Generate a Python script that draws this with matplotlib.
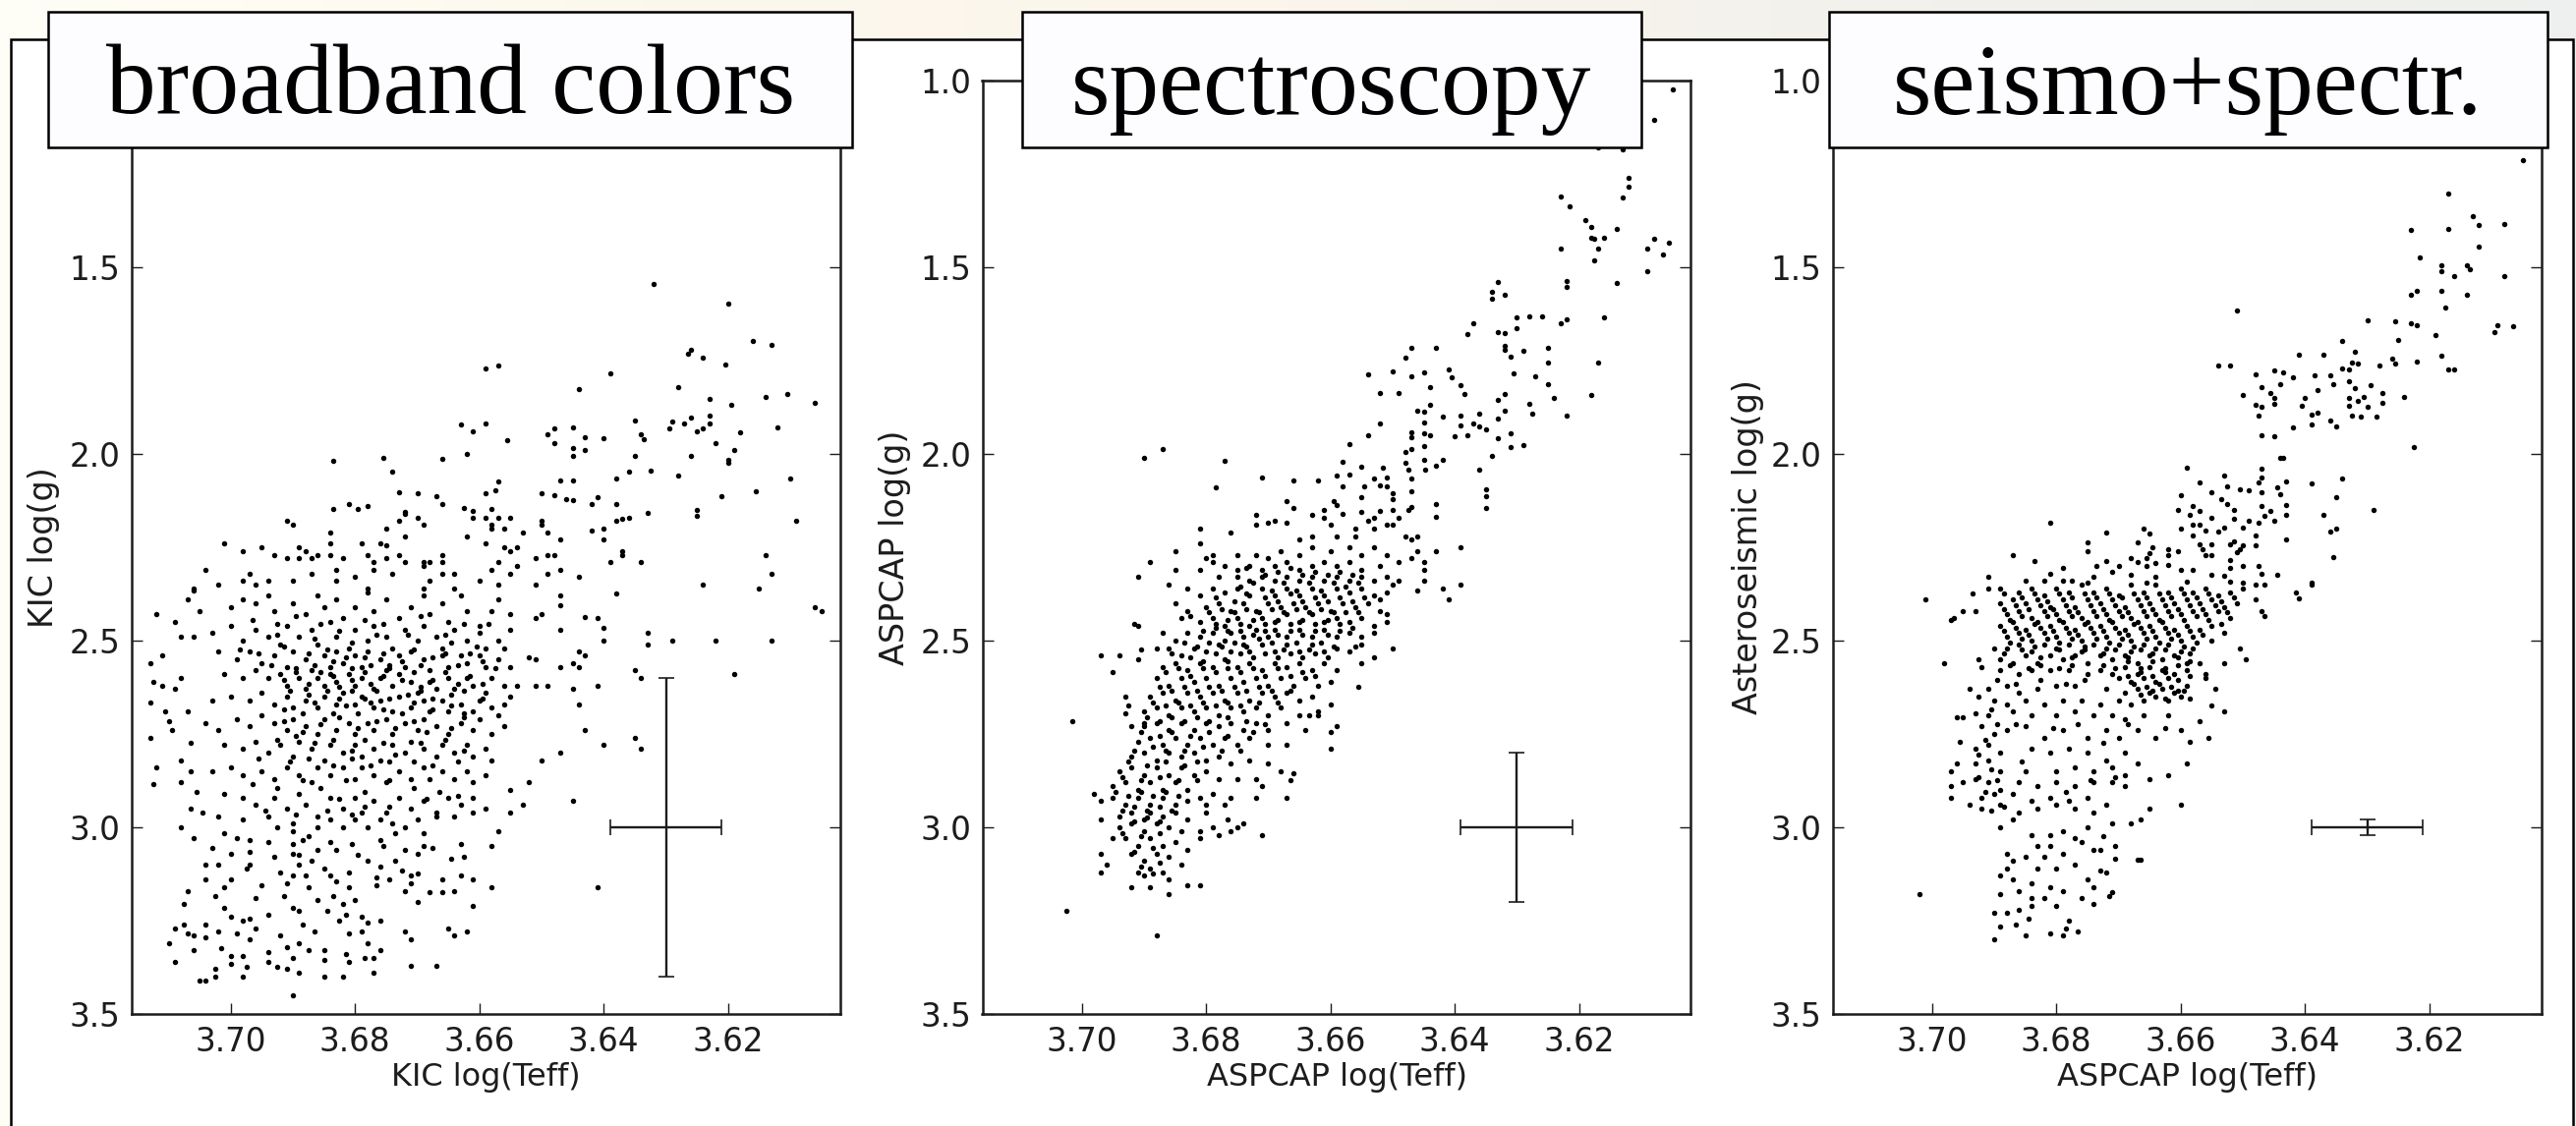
import numpy as np
import matplotlib
matplotlib.use('Agg')
import matplotlib.pyplot as plt
from matplotlib.patches import Rectangle
from matplotlib.colors import LinearSegmentedColormap

# (log Teff, log g), one list per panel
kic_points = [
(3.632,1.545),(3.620,1.598),(3.616,1.698),(3.613,1.708),(3.626,1.72),(3.6265,1.732),(3.624,1.742),(3.6205,1.76),(3.657,1.762),(3.659,1.772),
(3.639,1.785),(3.644,1.826),(3.628,1.822),(3.6105,1.84),(3.614,1.848),(3.623,1.852),(3.606,1.863),(3.6195,1.868),(3.623,1.898),(3.626,1.902),
(3.629,1.913),(3.635,1.911),(3.623,1.919),(3.627,1.919),(3.624,1.932),(3.6295,1.932),(3.612,1.929),(3.625,1.94),(3.618,1.943),(3.663,1.921),
(3.659,1.919),(3.661,1.94),(3.6555,1.964),(3.649,1.947),(3.648,1.931),(3.645,1.929),(3.643,1.955),(3.648,1.972),(3.64,1.957),(3.634,1.947),
(3.6335,1.96),(3.622,1.972),(3.645,1.985),(3.643,1.989),(3.619,1.989),(3.645,2.005),(3.662,2.001),(3.666,2.014),(3.6755,2.011),(3.6835,2.018),
(3.635,2.006),(3.626,2.006),(3.62,2.017),(3.62,2.024),(3.674,2.047),(3.6325,2.046),(3.636,2.048),(3.628,2.057),(3.61,2.065),(3.638,2.065),
(3.647,2.07),(3.645,2.07),(3.657,2.075),(3.6575,2.098),(3.659,2.106),(3.673,2.102),(3.67,2.104),(3.667,2.113),(3.65,2.105),(3.648,2.111),
(3.6155,2.1),(3.621,2.113),(3.641,2.115),(3.646,2.121),(3.645,2.124),(3.681,2.134),(3.666,2.133),(3.642,2.134),(3.638,2.133),(3.6835,2.148),
(3.6795,2.148),(3.678,2.139),(3.672,2.155),(3.672,2.16),(3.6625,2.145),(3.661,2.153),(3.658,2.148),(3.625,2.15),(3.633,2.158),(3.625,2.167),
(3.609,2.18),(3.636,2.17),(3.637,2.175),(3.638,2.18),(3.64,2.2),(3.642,2.205),(3.64,2.23),(3.65,2.18),(3.65,2.19),(3.649,2.21),(3.647,2.23),
(3.653,2.21),(3.656,2.2),(3.658,2.19),(3.658,2.2),(3.659,2.17),(3.657,2.17),(3.655,2.17),(3.661,2.17),(3.662,2.22),(3.659,2.24),(3.673,2.18),
(3.67,2.17),(3.669,2.19),(3.691,2.18),(3.69,2.19),(3.684,2.21),(3.675,2.2),(3.672,2.22),(3.701,2.24),(3.695,2.25),(3.698,2.26),(3.689,2.25),
(3.688,2.26),(3.684,2.24),(3.679,2.24),(3.676,2.24),(3.675,2.245),(3.693,2.27),(3.691,2.28),(3.689,2.28),(3.687,2.28),(3.686,2.27),(3.684,2.27),
(3.682,2.28),(3.678,2.27),(3.677,2.29),(3.675,2.28),(3.673,2.27),(3.672,2.29),(3.669,2.29),(3.668,2.29),(3.666,2.27),(3.666,2.29),(3.656,2.25),
(3.655,2.26),(3.654,2.25),(3.657,2.29),(3.654,2.3),(3.651,2.28),(3.649,2.27),(3.648,2.27),(3.637,2.26),(3.637,2.27),(3.639,2.29),(3.634,2.29),
(3.614,2.27),(3.613,2.32),(3.624,2.35),(3.615,2.36),(3.644,2.33),(3.647,2.31),(3.649,2.32),(3.651,2.35),(3.655,2.32),(3.658,2.31),(3.704,2.31),
(3.697,2.32),(3.687,2.32),(3.683,2.31),(3.68,2.33),(3.677,2.31),(3.674,2.32),(3.669,2.3),(3.664,2.32),(3.666,2.32),(3.668,2.34),(3.66,2.34),
(3.706,2.36),(3.702,2.35),(3.698,2.34),(3.696,2.35),(3.694,2.34),(3.69,2.34),(3.683,2.34),(3.678,2.36),(3.669,2.36),(3.664,2.36),(3.657,2.35),
(3.638,2.375),(3.647,2.38),(3.647,2.405),(3.65,2.43),(3.651,2.44),(3.647,2.47),(3.643,2.436),(3.641,2.44),(3.64,2.466),(3.64,2.5),(3.633,2.48),
(3.633,2.51),(3.629,2.5),(3.622,2.5),(3.613,2.5),(3.606,2.41),(3.605,2.42),(3.644,2.53),(3.643,2.54),(3.644,2.57),(3.645,2.56),(3.647,2.57),
(3.651,2.55),(3.652,2.545),(3.635,2.58),(3.634,2.6),(3.619,2.59),(3.641,2.62),(3.645,2.63),(3.649,2.62),(3.651,2.62),(3.654,2.62),(3.644,2.67),
(3.643,2.74),(3.635,2.76),(3.634,2.79),(3.64,2.78),(3.647,2.8),(3.65,2.82),(3.652,2.88),(3.655,2.9),(3.645,2.93),(3.653,2.94),(3.655,2.96),
(3.641,3.16),(3.657,3.01),(3.658,3.05),(3.658,3.16),(3.661,3.21),(3.661,3.14),(3.663,3.13),(3.666,3.14),(3.662,3.28),(3.665,3.27),(3.664,3.29),
(3.667,3.37),(3.671,3.37),(3.672,3.28),(3.671,3.3),(3.69,3.45),(3.682,3.4),(3.677,3.39),(3.685,3.4),(3.689,3.39),(3.698,3.4),
(3.713,2.56),(3.711,2.54),(3.712,2.43),(3.709,2.45),(3.708,2.49),(3.706,2.49),(3.706,2.365),(3.707,2.39),(3.705,2.42),(3.7125,2.61),(3.711,2.62),
(3.709,2.63),(3.708,2.6),(3.713,2.665),(3.7105,2.69),(3.707,2.69),(3.71,2.715),(3.7095,2.74),(3.713,2.76),(3.7065,2.775),(3.708,2.82),(3.712,2.84),
(3.7125,2.885),(3.708,2.88),(3.7065,2.85),(3.7055,2.905),(3.7065,2.95),(3.7045,2.96),(3.708,3.0),(3.706,3.03),(3.703,3.055),(3.704,3.1),(3.704,3.14),
(3.707,3.17),(3.7075,3.205),(3.7025,3.185),(3.709,3.27),(3.7075,3.26),(3.71,3.31),(3.707,3.285),(3.706,3.29),(3.704,3.295),(3.709,3.36),(3.706,3.33),
(3.705,3.41),(3.704,3.41),(3.7025,3.4),(3.7025,3.38),(3.7015,3.325),(3.7,3.345),(3.7,3.365),(3.702,3.28),(3.704,3.26),(3.699,3.285),(3.697,3.3),
(3.696,3.27),(3.698,3.345),(3.6975,3.375),(3.694,3.36),(3.694,3.335),(3.6925,3.375),(3.691,3.38),(3.69,3.35),(3.691,3.32),(3.689,3.31),(3.692,3.29),
(3.694,3.235),(3.698,3.25),(3.697,3.245),(3.7,3.24),(3.701,3.215),(3.696,3.19),(3.6915,3.185),(3.7,3.14),(3.701,3.16),(3.695,3.155),(3.6975,3.11),
(3.697,3.1),(3.691,3.15),(3.69,3.13),(3.6875,3.16),(3.685,3.11),(3.684,3.13),(3.683,3.145),(3.681,3.12),(3.681,3.16),(3.6835,3.185),(3.686,3.195),
(3.689,3.225),(3.69,3.215),(3.682,3.205),(3.68,3.195),(3.6845,3.225),(3.6815,3.235),(3.679,3.24),(3.678,3.255),(3.676,3.25),(3.679,3.28),(3.681,3.285),
(3.678,3.31),(3.6825,3.25),(3.6885,3.26),(3.6865,3.28),(3.6875,3.33),(3.685,3.33),(3.685,3.355),(3.6815,3.34),(3.681,3.36),(3.6785,3.35),(3.676,3.33),
(3.677,3.35),(3.699,3.03),(3.701,3.015),(3.697,3.035),(3.694,3.04),(3.7,3.07),(3.697,3.065),(3.702,3.1),(3.693,3.08),(3.69,3.045),(3.69,3.07),
(3.689,3.075),(3.6885,3.035),(3.69,3.01),(3.6925,3.0),(3.6875,3.025),(3.684,3.04),(3.683,3.06),(3.6805,3.045),(3.6795,3.075),(3.678,3.09),(3.676,3.035),
(3.6755,3.05),(3.6735,3.015),(3.6735,3.09),(3.676,3.105),(3.6765,3.135),(3.6765,3.155),(3.6745,3.14),(3.6725,3.115),(3.671,3.13),(3.67,3.125),
(3.672,3.17),(3.671,3.15),(3.67,3.2),(3.668,3.175),(3.666,3.175),(3.664,3.17),(3.669,3.05),(3.6675,3.055),(3.663,3.045),(3.6625,3.08),(3.6645,3.085),
(3.67,3.07),(3.672,3.06),(3.669,3.015),(3.689,3.1),(3.687,3.09),(3.686,3.06),(3.692,3.12),(3.688,3.13),
(3.700,2.41),(3.698,2.39),(3.696,2.40),(3.694,2.38),(3.693,2.42),(3.690,2.40),(3.688,2.43),(3.686,2.38),(3.685,2.41),(3.683,2.39),(3.682,2.44),
(3.680,2.41),(3.678,2.37),(3.677,2.42),(3.675,2.39),(3.673,2.44),(3.671,2.41),(3.669,2.38),(3.668,2.43),(3.666,2.40),(3.665,2.45),(3.663,2.38),
(3.662,2.42),(3.660,2.46),(3.658,2.42),(3.657,2.39),(3.655,2.43),(3.703,2.48),(3.700,2.46),(3.698,2.50),(3.696,2.47),(3.694,2.49),(3.692,2.51),
(3.691,2.46),(3.689,2.49),(3.687,2.47),(3.686,2.51),(3.684,2.45),(3.683,2.49),(3.681,2.52),(3.680,2.47),(3.678,2.50),(3.677,2.46),(3.675,2.49),
(3.674,2.52),(3.672,2.47),(3.670,2.50),(3.669,2.46),(3.667,2.49),(3.666,2.52),(3.664,2.47),(3.662,2.50),(3.660,2.48),(3.659,2.52),(3.657,2.50),
(3.655,2.47),(3.656,2.52),(3.702,2.53),(3.699,2.55),(3.697,2.53),(3.695,2.56),(3.693,2.54),(3.691,2.57),(3.690,2.53),(3.688,2.55),(3.687,2.58),
(3.685,2.54),(3.684,2.57),(3.683,2.53),(3.682,2.56),(3.680,2.54),(3.679,2.57),(3.678,2.53),(3.676,2.55),(3.675,2.58),(3.673,2.54),(3.672,2.57),
(3.671,2.53),(3.669,2.55),(3.668,2.58),(3.666,2.54),(3.665,2.57),(3.663,2.54),(3.662,2.56),(3.660,2.54),(3.659,2.57),(3.657,2.55),(3.655,2.57),
(3.701,2.59),(3.698,2.60),(3.696,2.58),(3.694,2.60),(3.692,2.59),(3.691,2.62),(3.689,2.60),(3.688,2.63),(3.686,2.60),(3.685,2.62),(3.684,2.59),
(3.683,2.61),(3.681,2.59),(3.680,2.62),(3.679,2.60),(3.677,2.63),(3.676,2.60),(3.674,2.62),(3.673,2.59),(3.671,2.61),(3.670,2.64),(3.668,2.61),
(3.667,2.63),(3.665,2.60),(3.664,2.63),(3.662,2.60),(3.661,2.62),(3.659,2.64),(3.658,2.60),(3.656,2.62),(3.655,2.65),
(3.703,2.66),(3.700,2.65),(3.697,2.66),(3.695,2.64),(3.693,2.67),(3.691,2.65),(3.690,2.68),(3.688,2.66),(3.686,2.68),(3.685,2.65),(3.683,2.67),
(3.682,2.64),(3.680,2.67),(3.679,2.65),(3.677,2.68),(3.676,2.66),(3.674,2.69),(3.673,2.65),(3.671,2.68),(3.669,2.66),(3.668,2.69),(3.666,2.66),
(3.665,2.69),(3.663,2.67),(3.661,2.69),(3.660,2.66),(3.658,2.68),(3.656,2.67),(3.657,2.70),
(3.704,2.72),(3.702,2.74),(3.699,2.71),(3.697,2.73),(3.695,2.70),(3.693,2.72),(3.691,2.74),(3.690,2.71),(3.688,2.73),(3.686,2.75),(3.685,2.71),
(3.683,2.74),(3.681,2.72),(3.680,2.75),(3.678,2.72),(3.677,2.74),(3.675,2.71),(3.674,2.75),(3.672,2.72),(3.670,2.74),(3.669,2.71),(3.667,2.73),
(3.665,2.75),(3.663,2.72),(3.661,2.74),(3.660,2.71),(3.658,2.75),(3.656,2.73),
(3.701,2.78),(3.698,2.79),(3.696,2.77),(3.694,2.80),(3.692,2.78),(3.690,2.81),(3.689,2.77),(3.687,2.79),(3.685,2.82),(3.684,2.78),(3.682,2.80),
(3.680,2.78),(3.679,2.81),(3.677,2.79),(3.676,2.82),(3.674,2.78),(3.672,2.80),(3.671,2.77),(3.669,2.79),(3.667,2.81),(3.666,2.78),(3.664,2.80),
(3.662,2.78),(3.661,2.81),(3.659,2.79),(3.658,2.82),
(3.703,2.85),(3.700,2.84),(3.698,2.86),(3.695,2.85),(3.693,2.87),(3.691,2.84),(3.689,2.86),(3.687,2.88),(3.686,2.84),(3.684,2.86),(3.682,2.84),
(3.680,2.87),(3.679,2.84),(3.677,2.86),(3.675,2.88),(3.673,2.85),(3.671,2.87),(3.669,2.84),(3.668,2.87),(3.666,2.85),(3.664,2.87),(3.662,2.85),
(3.661,2.88),(3.659,2.86),
(3.701,2.91),(3.698,2.92),(3.696,2.94),(3.693,2.92),(3.691,2.95),(3.689,2.91),(3.688,2.94),(3.686,2.97),(3.684,2.92),(3.682,2.95),(3.680,2.92),
(3.679,2.96),(3.677,2.93),(3.675,2.96),(3.673,2.92),(3.671,2.95),(3.669,2.93),(3.667,2.96),(3.665,2.92),(3.663,2.94),(3.661,2.92),(3.659,2.95),
(3.702,2.97),(3.698,2.98),(3.694,2.97),(3.690,2.99),(3.686,3.0),(3.684,2.98),(3.682,3.0),(3.680,2.98),(3.678,3.0),(3.676,2.98),(3.674,2.99),
(3.672,3.0),(3.670,2.98),(3.667,2.97),(3.664,2.97),(3.661,2.96),
# denser middle of the clump
(3.6985,2.525),(3.6955,2.535),(3.6935,2.565),(3.6915,2.515),(3.6895,2.575),(3.6875,2.535),(3.6865,2.565),(3.6845,2.525),(3.6835,2.555),(3.6815,2.545),
(3.6805,2.575),(3.6785,2.545),(3.6775,2.565),(3.6755,2.535),(3.6745,2.565),(3.6725,2.555),(3.6705,2.525),(3.6695,2.565),(3.6675,2.545),(3.6655,2.535),
(3.6635,2.565),(3.6615,2.535),(3.6595,2.555),(3.6575,2.575),(3.6915,2.605),(3.6895,2.585),(3.6875,2.615),(3.6855,2.585),(3.6835,2.595),(3.6825,2.625),
(3.6805,2.605),(3.6785,2.585),(3.6775,2.615),(3.6755,2.595),(3.6745,2.575),(3.6725,2.605),(3.6705,2.585),(3.6695,2.625),(3.6675,2.605),(3.6655,2.585),
(3.6635,2.615),(3.6615,2.595),(3.6595,2.615),(3.6905,2.635),(3.6875,2.645),(3.6845,2.635),(3.6825,2.655),(3.6805,2.635),(3.6785,2.655),(3.6765,2.635),
(3.6745,2.655),(3.6715,2.645),(3.6695,2.635),(3.6675,2.655),(3.6645,2.645),(3.6625,2.635),(3.6595,2.655),(3.6915,2.685),(3.6885,2.695),(3.6865,2.665),
(3.6835,2.695),(3.6815,2.675),(3.6795,2.695),(3.6775,2.665),(3.6755,2.685),(3.6725,2.695),(3.6705,2.665),(3.6675,2.685),(3.6645,2.675),(3.6625,2.695),
(3.6915,2.715),(3.6885,2.745),(3.6855,2.725),(3.6825,2.705),(3.6795,2.735),(3.6765,2.715),(3.6735,2.735),(3.6705,2.715),(3.6685,2.745),(3.6645,2.735),
(3.6625,2.705),(3.6925,2.765),(3.6895,2.755),(3.6865,2.775),(3.6835,2.765),(3.6805,2.795),(3.6785,2.765),(3.6755,2.775),(3.6735,2.805),(3.6695,2.775),
(3.6655,2.765),(3.6625,2.795),(3.6955,2.815),(3.6905,2.825),(3.6875,2.815),(3.6835,2.835),(3.6805,2.815),(3.6775,2.835),(3.6745,2.825),(3.6705,2.825),
(3.6675,2.835),(3.6635,2.825),(3.6965,2.885),(3.6925,2.895),(3.6885,2.875),(3.6855,2.895),(3.6815,2.875),(3.6785,2.905),(3.6745,2.875),(3.6705,2.895),
(3.6665,2.905),(3.6945,2.955),(3.6895,2.965),(3.6825,2.925),(3.6785,2.945),(3.6745,2.945),(3.6685,2.925),(3.6635,2.915),(3.6845,2.955),(3.6805,2.965),
(3.6965,2.445),(3.6925,2.455),(3.6895,2.435),(3.6855,2.455),(3.6825,2.475),(3.6785,2.445),(3.6755,2.455),(3.6715,2.485),(3.6695,2.435),(3.6655,2.485),
(3.6625,2.455),(3.6585,2.455),(3.6925,2.485),(3.6865,2.495),(3.6805,2.505),(3.6765,2.485),(3.6645,2.505),(3.6605,2.515),
]

aspcap_points = [
(3.605,1.024),(3.608,1.105),(3.613,1.185),(3.617,1.18),(3.612,1.26),(3.612,1.283),(3.613,1.313),(3.623,1.31),(3.6215,1.336),(3.619,1.374),
(3.618,1.393),(3.614,1.397),(3.618,1.422),(3.6175,1.424),(3.616,1.422),(3.608,1.425),(3.6055,1.435),(3.609,1.449),(3.617,1.449),(3.623,1.449),
(3.6065,1.466),(3.6175,1.481),(3.609,1.51),(3.622,1.537),(3.622,1.553),(3.633,1.54),(3.614,1.542),(3.634,1.566),(3.632,1.575),(3.634,1.583),
(3.616,1.634),(3.622,1.64),(3.623,1.649),(3.628,1.632),(3.626,1.631),(3.63,1.635),(3.63,1.662),(3.637,1.649),(3.638,1.68),(3.633,1.675),(3.632,1.677),
(3.632,1.71),(3.643,1.715),(3.647,1.715),(3.632,1.722),(3.629,1.725),(3.625,1.716),(3.648,1.742),(3.631,1.74),(3.625,1.755),(3.617,1.755),(3.65,1.778),
(3.641,1.773),(3.654,1.788),(3.645,1.782),(3.647,1.793),(3.6405,1.795),(3.6305,1.785),(3.627,1.792),(3.639,1.816),(3.644,1.82),(3.625,1.814),(3.652,1.838),
(3.649,1.836),(3.6385,1.84),(3.632,1.84),(3.618,1.843),(3.633,1.854),(3.624,1.851),(3.628,1.866),(3.644,1.869),(3.646,1.883),(3.645,1.886),(3.632,1.884),
(3.636,1.891),(3.6275,1.891),(3.642,1.9),(3.639,1.898),(3.622,1.898),(3.633,1.906),(3.645,1.916),(3.652,1.919),(3.639,1.923),(3.637,1.919),(3.636,1.926),
(3.635,1.933),(3.647,1.941),(3.645,1.946),(3.644,1.95),(3.654,1.951),(3.638,1.949),(3.64,1.953),(3.633,1.959),(3.631,1.946),(3.647,1.956),(3.645,1.979),
(3.657,1.974),(3.631,1.982),(3.629,1.977),(3.687,1.988),(3.690,2.01),(3.677,2.019),(3.647,1.987),(3.648,1.996),(3.634,2.005),(3.648,2.024),(3.645,2.016),
(3.642,2.016),(3.658,2.022),(3.643,2.032),(3.655,2.033),(3.6515,2.038),(3.6475,2.042),(3.6447,2.042),(3.657,2.055),(3.659,2.057),(3.636,2.043),(3.671,2.064),
(3.666,2.07),(3.662,2.07),(3.653,2.067),(3.651,2.064),(3.647,2.065),(3.652,2.083),(3.6545,2.086),(3.658,2.088),(3.6785,2.09),(3.651,2.088),(3.635,2.096),
(3.65,2.105),(3.647,2.101),(3.635,2.113),(3.655,2.115),(3.65,2.121),(3.635,2.144),(3.667,2.126),(3.6595,2.126),(3.643,2.133),(3.659,2.138),(3.666,2.146),
(3.661,2.15),(3.647,2.143),(3.658,2.16),(3.655,2.155),(3.652,2.153),(3.65,2.15),(3.672,2.163),(3.663,2.163),(3.6475,2.15),(3.661,2.17),(3.653,2.17),
(3.643,2.168),(3.649,2.17),(3.67,2.185),(3.669,2.18),(3.667,2.185),(3.66,2.19),(3.654,2.18),(3.651,2.19),(3.65,2.19),(3.653,2.2),(3.672,2.19),(3.681,2.2),
(3.656,2.2),(3.676,2.21),(3.659,2.22),(3.656,2.22),(3.648,2.22),(3.646,2.22),(3.663,2.22),(3.665,2.23),(3.681,2.24),(3.647,2.23),(3.639,2.25),(3.643,2.26),
(3.685,2.26),(3.679,2.27),(3.646,2.26),(3.689,2.29),(3.68,2.28),(3.691,2.33),(3.685,2.31),(3.645,2.29),(3.647,2.28),(3.645,2.31),(3.645,2.34),(3.639,2.35),
(3.642,2.36),(3.686,2.35),(3.641,2.39),(3.646,2.365),(3.65,2.35),(3.651,2.43),(3.652,2.42),(3.65,2.52),(3.653,2.545),(3.655,2.51),(3.656,2.515),(3.655,2.56),
(3.6555,2.625),(3.66,2.79),(3.659,2.73),(3.66,2.745),(3.66,2.67),(3.662,2.7),(3.6635,2.7),(3.667,2.92),(3.6665,2.875),(3.666,2.855),(3.668,2.85),(3.671,3.02),
(3.672,2.92),(3.671,2.89),(3.674,2.99),(3.675,3.0),(3.676,3.01),(3.6765,2.98),(3.678,3.02),(3.679,3.0),(3.681,3.01),(3.681,3.155),(3.683,3.155),(3.686,3.18),
(3.688,3.29),(3.7025,3.225),(3.7015,2.715),(3.697,2.54),(3.694,2.54),(3.695,2.585),(3.691,2.55),(3.6905,2.525),(3.688,2.52),(3.6915,2.455),(3.691,2.46),
(3.693,2.65),(3.6925,2.675),(3.693,2.695),(3.692,2.73),(3.69,2.72),(3.698,2.91),(3.697,2.93),(3.697,2.98),(3.695,3.03),(3.697,3.07),(3.696,3.1),(3.697,3.12),
(3.692,3.16),(3.689,3.16),(3.69,3.13),(3.686,3.14),
(3.679,2.29),(3.675,2.27),(3.672,2.27),(3.670,2.28),(3.668,2.26),(3.665,2.27),(3.663,2.25),(3.660,2.26),(3.657,2.25),(3.655,2.27),(3.653,2.25),(3.651,2.27),
(3.649,2.29),(3.652,2.30),(3.655,2.31),(3.657,2.29),(3.659,2.30),(3.661,2.29),(3.663,2.30),(3.665,2.31),(3.667,2.29),(3.669,2.30),(3.671,2.31),(3.673,2.30),
(3.675,2.31),(3.677,2.30),(3.681,2.31),(3.678,2.33),(3.675,2.33),(3.673,2.34),(3.671,2.33),(3.669,2.34),(3.667,2.33),(3.665,2.34),(3.663,2.33),(3.661,2.34),
(3.659,2.33),(3.657,2.34),(3.655,2.33),(3.653,2.34),(3.651,2.33),(3.649,2.34),(3.683,2.36),(3.681,2.38),(3.679,2.36),(3.677,2.37),(3.675,2.36),(3.673,2.38),
(3.671,2.36),(3.669,2.38),(3.667,2.36),(3.665,2.38),(3.663,2.36),(3.661,2.38),(3.659,2.36),(3.657,2.37),(3.655,2.36),(3.653,2.38),(3.651,2.37),
(3.685,2.40),(3.683,2.42),(3.680,2.41),(3.678,2.40),(3.676,2.42),(3.674,2.40),(3.672,2.42),(3.670,2.40),(3.668,2.41),(3.666,2.40),(3.664,2.41),(3.662,2.40),
(3.660,2.42),(3.658,2.40),(3.656,2.41),(3.654,2.40),(3.652,2.39),(3.684,2.44),(3.681,2.45),(3.679,2.44),(3.677,2.46),(3.675,2.44),(3.673,2.46),(3.671,2.44),
(3.669,2.45),(3.667,2.43),(3.665,2.45),(3.663,2.43),(3.661,2.45),(3.659,2.44),(3.657,2.45),(3.655,2.44),(3.653,2.46),(3.651,2.45),
(3.687,2.48),(3.685,2.50),(3.683,2.48),(3.681,2.49),(3.679,2.48),(3.677,2.50),(3.676,2.48),(3.674,2.49),(3.672,2.47),(3.670,2.49),(3.669,2.47),(3.667,2.49),
(3.665,2.47),(3.663,2.49),(3.661,2.47),(3.659,2.49),(3.657,2.48),(3.655,2.49),(3.653,2.48),(3.686,2.52),(3.684,2.54),(3.682,2.52),(3.680,2.53),(3.678,2.51),
(3.676,2.53),(3.674,2.51),(3.673,2.53),(3.671,2.51),(3.669,2.53),(3.667,2.51),(3.665,2.53),(3.663,2.51),(3.661,2.53),(3.659,2.52),(3.657,2.53),
(3.687,2.57),(3.685,2.56),(3.683,2.58),(3.681,2.56),(3.679,2.57),(3.677,2.55),(3.675,2.57),(3.673,2.56),(3.671,2.58),(3.669,2.56),(3.667,2.57),(3.665,2.56),
(3.663,2.58),(3.661,2.56),(3.659,2.58),(3.688,2.60),(3.686,2.62),(3.684,2.60),(3.682,2.61),(3.680,2.60),(3.678,2.62),(3.676,2.60),(3.674,2.61),(3.672,2.60),
(3.670,2.62),(3.668,2.60),(3.666,2.62),(3.664,2.60),(3.662,2.62),(3.660,2.61),(3.689,2.65),(3.687,2.64),(3.685,2.66),(3.683,2.64),(3.681,2.65),(3.679,2.64),
(3.677,2.66),(3.675,2.64),(3.673,2.66),(3.671,2.64),(3.669,2.65),(3.667,2.64),(3.665,2.66),(3.663,2.65),(3.690,2.69),(3.688,2.68),(3.686,2.70),(3.684,2.68),
(3.682,2.69),(3.680,2.68),(3.678,2.70),(3.676,2.68),(3.674,2.69),(3.672,2.68),(3.670,2.70),(3.668,2.68),(3.665,2.70),(3.662,2.69),
(3.690,2.73),(3.688,2.72),(3.686,2.74),(3.684,2.72),(3.682,2.74),(3.680,2.72),(3.678,2.73),(3.676,2.72),(3.674,2.74),(3.672,2.72),(3.670,2.74),(3.667,2.72),
(3.664,2.74),(3.691,2.77),(3.689,2.76),(3.687,2.78),(3.685,2.76),(3.683,2.78),(3.681,2.76),(3.679,2.78),(3.677,2.76),(3.675,2.78),(3.673,2.76),(3.670,2.78),
(3.667,2.78),(3.692,2.81),(3.690,2.80),(3.688,2.82),(3.686,2.80),(3.684,2.81),(3.682,2.80),(3.680,2.82),(3.678,2.81),(3.676,2.83),(3.673,2.82),(3.670,2.83),
(3.694,2.85),(3.692,2.84),(3.690,2.86),(3.688,2.84),(3.686,2.86),(3.684,2.84),(3.682,2.86),(3.680,2.85),(3.678,2.87),(3.675,2.87),(3.672,2.87),
(3.695,2.89),(3.693,2.88),(3.691,2.90),(3.689,2.88),(3.687,2.90),(3.685,2.88),(3.683,2.90),(3.681,2.92),(3.679,2.91),(3.676,2.92),(3.695,2.92),(3.693,2.94),
(3.691,2.92),(3.689,2.94),(3.687,2.92),(3.685,2.94),(3.683,2.93),(3.680,2.94),(3.677,2.94),(3.694,2.97),(3.692,2.96),(3.690,2.98),(3.689,2.96),(3.687,2.97),
(3.685,2.96),(3.683,2.98),(3.680,2.96),(3.694,3.0),(3.692,2.99),(3.690,3.01),(3.688,2.99),(3.686,3.0),(3.684,3.01),(3.681,3.03),(3.693,3.03),(3.691,3.05),
(3.689,3.03),(3.687,3.05),(3.685,3.04),(3.683,3.06),(3.692,3.07),(3.690,3.09),(3.688,3.07),(3.686,3.08),(3.684,3.1),(3.691,3.12),(3.689,3.11),(3.687,3.12),
# denser band along the ridge
(3.6735,2.305),(3.6705,2.325),(3.6685,2.315),(3.6665,2.305),(3.6645,2.325),(3.6625,2.315),(3.6605,2.325),(3.6585,2.315),(3.6565,2.325),(3.6745,2.355),
(3.6725,2.345),(3.6695,2.365),(3.6675,2.345),(3.6655,2.365),(3.6635,2.345),(3.6615,2.365),(3.6595,2.345),(3.6575,2.355),(3.6555,2.345),(3.6785,2.385),
(3.6755,2.395),(3.6735,2.375),(3.6705,2.385),(3.6685,2.395),(3.6665,2.375),(3.6645,2.395),(3.6625,2.385),(3.6605,2.395),(3.6585,2.385),(3.6565,2.395),
(3.6545,2.385),(3.6775,2.415),(3.6755,2.425),(3.6735,2.415),(3.6715,2.425),(3.6695,2.415),(3.6675,2.425),(3.6655,2.415),(3.6635,2.425),(3.6615,2.415),
(3.6595,2.425),(3.6575,2.425),(3.6555,2.425),(3.6795,2.425),(3.6825,2.435),(3.6785,2.455),(3.6765,2.445),(3.6745,2.455),(3.6725,2.445),(3.6705,2.455),
(3.6685,2.445),(3.6665,2.455),(3.6645,2.445),(3.6625,2.455),(3.6605,2.445),(3.6585,2.455),(3.6565,2.465),(3.6805,2.475),(3.6785,2.465),(3.6765,2.475),
(3.6745,2.475),(3.6725,2.485),(3.6705,2.475),(3.6685,2.485),(3.6665,2.475),(3.6645,2.485),(3.6625,2.475),(3.6605,2.485),(3.6585,2.475),(3.6835,2.505),
(3.6815,2.515),(3.6795,2.505),(3.6775,2.515),(3.6755,2.505),(3.6735,2.515),(3.6715,2.495),(3.6695,2.505),(3.6675,2.525),(3.6655,2.505),(3.6635,2.525),
(3.6615,2.505),(3.6595,2.515),(3.6855,2.535),(3.6825,2.545),(3.6805,2.555),(3.6785,2.535),(3.6765,2.555),(3.6745,2.535),(3.6725,2.545),(3.6705,2.535),
(3.6685,2.545),(3.6665,2.535),(3.6645,2.545),(3.6625,2.535),(3.6605,2.545),(3.6865,2.585),(3.6845,2.575),(3.6825,2.595),(3.6805,2.575),(3.6785,2.585),
(3.6765,2.575),(3.6745,2.585),(3.6725,2.575),(3.6705,2.595),(3.6685,2.575),(3.6665,2.595),(3.6645,2.585),(3.6625,2.595),(3.6875,2.625),(3.6855,2.635),
(3.6835,2.625),(3.6815,2.635),(3.6795,2.625),(3.6775,2.635),(3.6755,2.625),(3.6735,2.635),(3.6715,2.625),(3.6695,2.635),(3.6665,2.635),(3.6885,2.665),
(3.6865,2.675),(3.6845,2.665),(3.6825,2.675),(3.6805,2.665),(3.6785,2.675),(3.6765,2.665),(3.6745,2.675),(3.6715,2.665),(3.6685,2.665),(3.6895,2.705),
(3.6875,2.715),(3.6855,2.705),(3.6835,2.715),(3.6815,2.705),(3.6795,2.715),(3.6765,2.705),(3.6735,2.715),(3.6705,2.725),(3.6905,2.745),(3.6875,2.755),
(3.6855,2.745),(3.6825,2.755),(3.6795,2.745),(3.6765,2.755),(3.6725,2.745),(3.6915,2.795),(3.6885,2.785),(3.6865,2.795),(3.6835,2.795),(3.6805,2.785),
(3.6775,2.795),(3.6745,2.795),(3.6925,2.825),(3.6895,2.835),(3.6865,2.825),(3.6835,2.835),(3.6815,2.825),(3.6935,2.865),(3.6905,2.875),(3.6875,2.865),
(3.6845,2.875),(3.6815,2.875),(3.6945,2.905),(3.6925,2.915),(3.6905,2.905),(3.6885,2.915),(3.6865,2.905),(3.6845,2.915),(3.6935,2.955),(3.6915,2.945),
(3.6895,2.955),(3.6875,2.945),(3.6855,2.955),(3.6915,2.985),(3.6895,2.975),(3.6875,2.985),(3.6935,3.015),(3.6905,3.025),(3.6875,3.015),(3.6915,3.065),
(3.6885,3.055),(3.6875,3.095),(3.6885,3.125),(3.6905,3.105),
]

seismo_points = [
(3.605,1.213),(3.617,1.302),(3.613,1.364),(3.617,1.397),(3.623,1.401),(3.612,1.387),(3.608,1.385),(3.612,1.444),(3.6215,1.474),(3.618,1.496),(3.618,1.51),
(3.614,1.496),(3.6135,1.504),(3.616,1.524),(3.608,1.524),(3.622,1.562),(3.618,1.562),(3.623,1.574),(3.614,1.574),(3.6175,1.608),(3.651,1.617),(3.63,1.642),
(3.6255,1.645),(3.623,1.65),(3.622,1.656),(3.609,1.656),(3.6065,1.659),(3.6095,1.675),(3.619,1.682),(3.634,1.697),(3.625,1.695),(3.641,1.733),(3.637,1.733),
(3.632,1.727),(3.618,1.737),(3.626,1.745),(3.654,1.763),(3.652,1.763),(3.6255,1.757),(3.622,1.752),(3.6325,1.755),(3.6315,1.758),(3.628,1.764),(3.634,1.772),
(3.633,1.775),(3.617,1.773),(3.616,1.773),(3.645,1.776),(3.6435,1.782),(3.642,1.795),(3.648,1.788),(3.6385,1.79),(3.636,1.79),(3.633,1.806),(3.6355,1.812),
(3.644,1.813),(3.647,1.822),(3.6295,1.817),(3.632,1.824),(3.638,1.829),(3.6275,1.838),(3.6455,1.838),(3.65,1.843),(3.624,1.848),(3.645,1.85),(3.64,1.85),
(3.633,1.849),(3.6305,1.847),(3.6315,1.858),(3.6275,1.863),(3.645,1.866),(3.648,1.868),(3.647,1.873),(3.6405,1.871),(3.633,1.872),(3.63,1.875),(3.638,1.889),
(3.639,1.895),(3.6475,1.897),(3.6325,1.898),(3.631,1.899),(3.6285,1.899),(3.636,1.911),(3.639,1.921),(3.635,1.926),(3.642,1.928),(3.647,1.95),(3.645,1.952),
(3.6225,1.982),(3.644,2.011),(3.6435,2.011),(3.647,2.04),(3.659,2.037),(3.653,2.057),(3.647,2.062),(3.634,2.067),(3.643,2.075),(3.657,2.077),(3.6475,2.077),
(3.639,2.08),(3.6525,2.086),(3.6445,2.09),(3.6505,2.095),(3.649,2.097),(3.655,2.103),(3.647,2.103),(3.644,2.108),(3.66,2.11),(3.635,2.117),(3.6535,2.12),
(3.658,2.14),(3.6525,2.135),(3.643,2.138),(3.647,2.14),(3.6605,2.15),(3.6515,2.15),(3.657,2.153),(3.629,2.15),(3.6455,2.153),(3.6585,2.163),(3.637,2.164),
(3.643,2.164),(3.655,2.17),(3.6515,2.173),(3.6465,2.166),(3.645,2.18),(3.649,2.18),(3.681,2.183),(3.6475,2.183),(3.658,2.19),(3.657,2.189),(3.653,2.197),
(3.65,2.198),(3.666,2.2),(3.66,2.2),(3.656,2.204),(3.654,2.208),(3.635,2.2),(3.636,2.208),(3.672,2.21),(3.665,2.213),(3.658,2.218),(3.648,2.218),(3.643,2.23),
(3.667,2.236),(3.675,2.237),(3.6515,2.234),(3.657,2.243),(3.655,2.243),(3.652,2.243),(3.65,2.246),(3.648,2.246),(3.6645,2.249),(3.662,2.254),(3.6565,2.256),
(3.675,2.26),(3.6605,2.26),(3.6505,2.255),(3.665,2.267),(3.662,2.27),(3.687,2.27),(3.651,2.264),(3.656,2.272),(3.655,2.272),(3.6355,2.277),(3.668,2.28),
(3.6655,2.28),(3.672,2.287),(3.6835,2.287),(3.652,2.284),(3.667,2.29),(3.664,2.293),(3.662,2.298),(3.652,2.304),(3.65,2.3),(3.6735,2.3),(3.67,2.3),(3.6655,2.3),
(3.66,2.31),(3.658,2.31),(3.6475,2.3),(3.679,2.306),(3.671,2.315),(3.647,2.32),(3.6445,2.325),(3.681,2.32),(3.668,2.325),(3.664,2.33),(3.691,2.33),(3.655,2.325),
(3.674,2.33),(3.653,2.327),(3.685,2.34),(3.682,2.34),(3.679,2.34),(3.6775,2.34),(3.675,2.345),(3.6655,2.345),(3.659,2.343),(3.652,2.343),(3.65,2.345),(3.639,2.35),
(3.6465,2.35),(3.639,2.345),(3.6415,2.37),(3.641,2.387),(3.648,2.35),(3.647,2.42),(3.6465,2.435),(3.6505,2.52),(3.6495,2.55),(3.653,2.56),(3.656,2.59),(3.656,2.6),
(3.6545,2.63),(3.655,2.675),(3.653,2.69),(3.6555,2.76),(3.657,2.715),(3.6585,2.77),(3.659,2.83),(3.662,2.86),(3.665,2.87),(3.66,2.94),(3.665,2.95),(3.6665,2.98),
(3.668,2.99),(3.6665,3.087),(3.667,3.087),(3.6705,3.05),(3.6705,3.085),(3.6725,3.025),(3.673,3.06),(3.672,3.12),(3.673,3.115),(3.671,3.175),(3.6715,3.185),
(3.674,3.16),(3.675,3.14),(3.676,3.19),(3.674,3.205),(3.6765,3.28),(3.678,3.25),(3.6785,3.27),(3.679,3.29),(3.681,3.285),(3.685,3.29),(3.6865,3.26),(3.6845,3.245),
(3.69,3.3),(3.689,3.265),(3.702,3.18),(3.701,2.39),(3.698,2.56),(3.68,3.21),(3.697,2.92),(3.697,2.85),(3.697,2.89),(3.695,2.88),(3.694,2.94),(3.696,2.83),
(3.6955,2.77),(3.696,2.705),(3.695,2.705),(3.693,2.695),(3.694,2.63),(3.6925,2.65),(3.697,2.445),(3.6965,2.44),(3.695,2.42),(3.693,2.42),(3.6935,2.375),(3.691,2.36),
(3.6925,2.55),(3.692,2.57),
(3.689,2.36),(3.686,2.37),(3.684,2.36),(3.682,2.38),(3.680,2.36),(3.678,2.37),(3.676,2.35),(3.674,2.37),(3.672,2.36),(3.670,2.38),(3.668,2.35),(3.666,2.37),
(3.664,2.35),(3.662,2.37),(3.660,2.36),(3.658,2.37),(3.656,2.36),(3.654,2.38),(3.652,2.37),(3.650,2.36),(3.648,2.39),
(3.689,2.40),(3.687,2.39),(3.685,2.40),(3.683,2.39),(3.681,2.41),(3.679,2.39),(3.677,2.41),(3.675,2.39),(3.673,2.40),(3.671,2.39),(3.669,2.41),(3.667,2.39),
(3.665,2.40),(3.663,2.39),(3.661,2.40),(3.659,2.39),(3.657,2.40),(3.655,2.39),(3.653,2.41),(3.651,2.40),
(3.688,2.43),(3.686,2.42),(3.684,2.44),(3.682,2.42),(3.680,2.43),(3.678,2.42),(3.676,2.44),(3.674,2.42),(3.672,2.43),(3.670,2.42),(3.668,2.44),(3.666,2.42),
(3.664,2.43),(3.662,2.42),(3.660,2.43),(3.658,2.42),(3.656,2.43),(3.654,2.42),(3.652,2.44),
(3.689,2.46),(3.687,2.45),(3.685,2.47),(3.683,2.45),(3.681,2.46),(3.679,2.45),(3.677,2.47),(3.675,2.45),(3.673,2.46),(3.671,2.45),(3.669,2.47),(3.667,2.45),
(3.665,2.46),(3.663,2.45),(3.661,2.47),(3.659,2.46),(3.657,2.47),(3.655,2.46),(3.653,2.48),
(3.688,2.49),(3.686,2.48),(3.684,2.50),(3.682,2.48),(3.680,2.49),(3.678,2.48),(3.676,2.50),(3.674,2.48),(3.672,2.49),(3.670,2.48),(3.668,2.50),(3.666,2.48),
(3.664,2.49),(3.662,2.48),(3.660,2.50),(3.658,2.49),(3.655,2.50),
(3.690,2.52),(3.688,2.52),(3.686,2.51),(3.684,2.53),(3.682,2.51),(3.680,2.52),(3.678,2.51),(3.676,2.53),(3.674,2.51),(3.672,2.52),(3.670,2.51),(3.668,2.53),
(3.666,2.51),(3.664,2.52),(3.662,2.51),(3.660,2.53),(3.658,2.52),
(3.689,2.55),(3.687,2.56),(3.685,2.54),(3.683,2.56),(3.681,2.54),(3.679,2.55),(3.677,2.54),(3.675,2.56),(3.673,2.54),(3.671,2.55),(3.669,2.54),(3.667,2.56),
(3.665,2.54),(3.663,2.55),(3.661,2.54),(3.659,2.56),(3.657,2.56),
(3.689,2.58),(3.686,2.59),(3.684,2.58),(3.681,2.58),(3.678,2.58),(3.675,2.59),(3.673,2.58),(3.671,2.59),(3.669,2.57),(3.667,2.59),(3.665,2.57),(3.663,2.58),
(3.661,2.59),(3.659,2.58),(3.666,2.60),(3.664,2.61),(3.662,2.60),(3.668,2.61),(3.670,2.60),
(3.691,2.63),(3.688,2.62),(3.686,2.64),(3.683,2.63),(3.680,2.62),(3.677,2.62),(3.672,2.63),(3.669,2.64),(3.667,2.63),(3.665,2.64),(3.663,2.63),(3.661,2.64),
(3.659,2.62),(3.690,2.66),(3.688,2.67),(3.685,2.66),(3.682,2.67),(3.679,2.66),(3.676,2.66),(3.673,2.67),(3.670,2.66),(3.668,2.67),(3.666,2.66),(3.664,2.65),
(3.662,2.66),(3.660,2.65),(3.691,2.70),(3.687,2.69),(3.684,2.70),(3.680,2.70),(3.677,2.69),(3.674,2.70),(3.671,2.70),(3.669,2.71),(3.666,2.70),(3.662,2.70),
(3.692,2.73),(3.690,2.75),(3.688,2.74),(3.685,2.73),(3.682,2.76),(3.679,2.74),(3.675,2.76),(3.672,2.74),(3.670,2.76),(3.667,2.74),(3.664,2.76),(3.660,2.74),
(3.693,2.79),(3.691,2.78),(3.689,2.80),(3.684,2.79),(3.681,2.80),(3.678,2.79),(3.675,2.80),(3.672,2.82),(3.669,2.80),(3.667,2.83),(3.693,2.83),(3.691,2.82),
(3.689,2.85),(3.685,2.85),(3.680,2.85),(3.677,2.84),(3.674,2.85),(3.671,2.84),(3.669,2.86),(3.693,2.87),(3.691,2.88),(3.689,2.90),(3.686,2.88),(3.683,2.89),
(3.680,2.88),(3.677,2.89),(3.674,2.88),(3.671,2.88),(3.669,2.89),(3.692,2.92),(3.690,2.91),(3.687,2.91),(3.684,2.93),(3.681,2.92),(3.678,2.93),(3.675,2.92),
(3.672,2.94),(3.692,2.95),(3.689,2.94),(3.686,2.96),(3.683,2.95),(3.680,2.94),(3.677,2.95),(3.674,2.96),(3.689,3.0),(3.687,2.98),(3.684,3.02),(3.681,3.02),
(3.679,3.01),(3.677,3.03),(3.675,3.0),(3.671,2.99),(3.683,3.05),(3.681,3.05),(3.679,3.07),(3.676,3.04),(3.674,3.06),(3.688,3.07),(3.685,3.08),(3.682,3.08),
(3.688,3.11),(3.687,3.09),(3.683,3.11),(3.680,3.11),(3.677,3.1),(3.689,3.13),(3.687,3.14),(3.684,3.15),(3.681,3.16),(3.689,3.18),(3.686,3.17),(3.684,3.19),
(3.682,3.19),(3.679,3.17),(3.690,3.23),(3.688,3.23),(3.686,3.22),(3.684,3.21),
# the tight clump around log g 2.4
(3.6885,2.375),(3.6855,2.385),(3.6835,2.375),(3.6815,2.395),(3.6795,2.375),(3.6775,2.385),(3.6755,2.375),(3.6735,2.385),(3.6715,2.375),(3.6695,2.385),
(3.6675,2.375),(3.6655,2.385),(3.6635,2.375),(3.6615,2.385),(3.6595,2.375),(3.6575,2.385),(3.6555,2.375),(3.6535,2.395),(3.6515,2.385),(3.6885,2.415),
(3.6865,2.405),(3.6845,2.415),(3.6825,2.405),(3.6805,2.415),(3.6785,2.405),(3.6765,2.425),(3.6745,2.405),(3.6725,2.415),(3.6705,2.405),(3.6685,2.425),
(3.6665,2.405),(3.6645,2.415),(3.6625,2.405),(3.6605,2.415),(3.6585,2.405),(3.6565,2.415),(3.6545,2.405),(3.6525,2.425),(3.6875,2.445),(3.6855,2.435),
(3.6835,2.455),(3.6815,2.435),(3.6795,2.445),(3.6775,2.435),(3.6755,2.455),(3.6735,2.435),(3.6715,2.445),(3.6695,2.435),(3.6675,2.455),(3.6655,2.435),
(3.6635,2.445),(3.6615,2.435),(3.6595,2.445),(3.6575,2.435),(3.6555,2.445),(3.6535,2.455),(3.6885,2.475),(3.6865,2.465),(3.6845,2.485),(3.6825,2.465),
(3.6805,2.475),(3.6785,2.465),(3.6765,2.485),(3.6745,2.465),(3.6725,2.475),(3.6705,2.465),(3.6685,2.485),(3.6665,2.465),(3.6645,2.475),(3.6625,2.465),
(3.6605,2.485),(3.6585,2.475),(3.6565,2.485),(3.6875,2.505),(3.6855,2.495),(3.6835,2.515),(3.6815,2.495),(3.6795,2.505),(3.6775,2.495),(3.6755,2.515),
(3.6735,2.495),(3.6715,2.505),(3.6695,2.495),(3.6675,2.515),(3.6655,2.495),(3.6635,2.505),(3.6615,2.495),(3.6595,2.515),(3.6575,2.505),(3.6885,2.535),
(3.6855,2.525),(3.6825,2.545),(3.6795,2.525),(3.6775,2.545),(3.6755,2.525),(3.6725,2.535),(3.6705,2.525),(3.6685,2.545),(3.6665,2.525),(3.6645,2.535),
(3.6625,2.525),(3.6605,2.545),(3.6585,2.535),(3.6725,2.565),(3.6705,2.575),(3.6685,2.555),(3.6665,2.575),(3.6645,2.555),(3.6625,2.575),(3.6605,2.565),
(3.6585,2.555),(3.6685,2.595),(3.6665,2.585),(3.6645,2.595),(3.6625,2.585),(3.6605,2.605),(3.6585,2.595),(3.6675,2.615),(3.6655,2.625),(3.6635,2.615),
(3.6615,2.625),(3.6595,2.635),(3.6665,2.645),(3.6645,2.635),(3.6625,2.655),(3.6605,2.635),(3.6585,2.655),
(3.6875,2.565),(3.6845,2.575),(3.6825,2.565),(3.6795,2.575),(3.6775,2.565),(3.6895,2.605),(3.6865,2.615),(3.6825,2.605),(3.6785,2.615),(3.6755,2.605),
(3.6905,2.685),(3.6895,2.725),(3.6915,2.765),(3.6925,2.805),(3.6905,2.845),(3.6915,2.905),(3.6925,2.865),(3.6895,2.875),(3.6885,2.945),(3.6905,2.955),
(3.6865,2.725),(3.6805,2.735),(3.6765,2.725),(3.6725,2.775),(3.6685,2.725),(3.6625,2.735),(3.6855,2.825),(3.6745,2.875),(3.6705,2.865),(3.6785,2.905),
]

# error bars in the corner of each panel
err_teff = [3.63, 3.63, 3.63]
err_logg = [3.0, 3.0, 3.0]
xerr = [0.009, 0.009, 0.009]
yerr = [0.4, 0.2, 0.02]

panels = ['broadband colors', 'spectroscopy', 'seismo+spectr.']
xlabels = ['KIC log(Teff)', 'ASPCAP log(Teff)', 'ASPCAP log(Teff)']
ylabels = ['KIC log(g)', 'ASPCAP log(g)', 'Asteroseismic log(g)']
xticks = [3.70, 3.68, 3.66, 3.64, 3.62]
yticks = [1.0, 1.5, 2.0, 2.5, 3.0, 3.5]

W, H = 2621, 1146
DARK = '#1c1c1c'

fig = plt.figure(figsize=(W / 100, H / 100), dpi=100)

# slide background showing around the frame
bg = fig.add_axes([0, 0, 1, 1], zorder=-3)
cmap = LinearSegmentedColormap.from_list('bg', ['#fffef6', '#fdf8ee', '#fbf5ec', '#f2f1ec', '#eef0ef'])
bg.imshow(np.linspace(0, 1, 64).reshape(1, -1), aspect='auto', cmap=cmap, extent=[0, 1, 0, 1])
bg.axis('off')
fig.add_artist(Rectangle((11 / W, -0.05), (2618 - 11) / W, 1.05 - 40 / H, transform=fig.transFigure,
                         facecolor='white', edgecolor='black', linewidth=1.8, zorder=-2))

lefts = [133.6, 999.5, 1864.6]
points = [kic_points, aspcap_points, seismo_points]
label_x = [-0.101, -0.101, -0.097]
boxes = [(49.5, 867), (1040, 1670), (1861, 2592)]

for i in range(3):
    ax = fig.add_axes([lefts[i] / W, 1 - 1032 / H, 721 / W, 950 / H], zorder=1)
    ax.patch.set_alpha(0)
    pts = np.array(points[i])
    ax.plot(pts[:, 0], pts[:, 1], 'o', color='black', markersize=3.9, markeredgewidth=0, clip_on=False)
    ax.errorbar(err_teff[i], err_logg[i], xerr=xerr[i], yerr=yerr[i], color=DARK, linewidth=1.7,
                capsize=5.5, capthick=1.2)
    ax.set_xlim(3.716, 3.602)
    ax.set_ylim(3.5, 1.0)
    ax.set_xticks(xticks)
    ax.set_xticklabels(['%.2f' % t for t in xticks])
    ax.set_yticks(yticks)
    ax.tick_params(direction='in', length=8, width=1.0, top=True, right=True, labelsize=23.5,
                   labelcolor=DARK, color=DARK)
    ax.tick_params(axis='x', pad=9)
    ax.tick_params(axis='y', pad=8)
    for s in ax.spines.values():
        s.set_linewidth(1.8)
        s.set_color(DARK)
    ax.set_xlabel(xlabels[i], fontsize=23, color=DARK)
    ax.set_ylabel(ylabels[i], fontsize=24, color=DARK)
    ax.xaxis.set_label_coords(0.5, -0.052)
    ax.yaxis.set_label_coords(label_x[i], 0.5)

    # title box sits on top of the axes
    x0, x1 = boxes[i]
    fig.add_artist(Rectangle((x0 / W, 1 - 150 / H), (x1 - x0) / W, 138.5 / H, transform=fig.transFigure,
                             facecolor='#fdfdff', edgecolor='black', linewidth=1.8, zorder=5))
    fig.text((x0 + x1) / 2 / W, 1 - 115.5 / H, panels[i], family='Liberation Serif', fontsize=73,
             ha='center', va='baseline', color='black', zorder=6)

fig.savefig('out.png', dpi=100)
